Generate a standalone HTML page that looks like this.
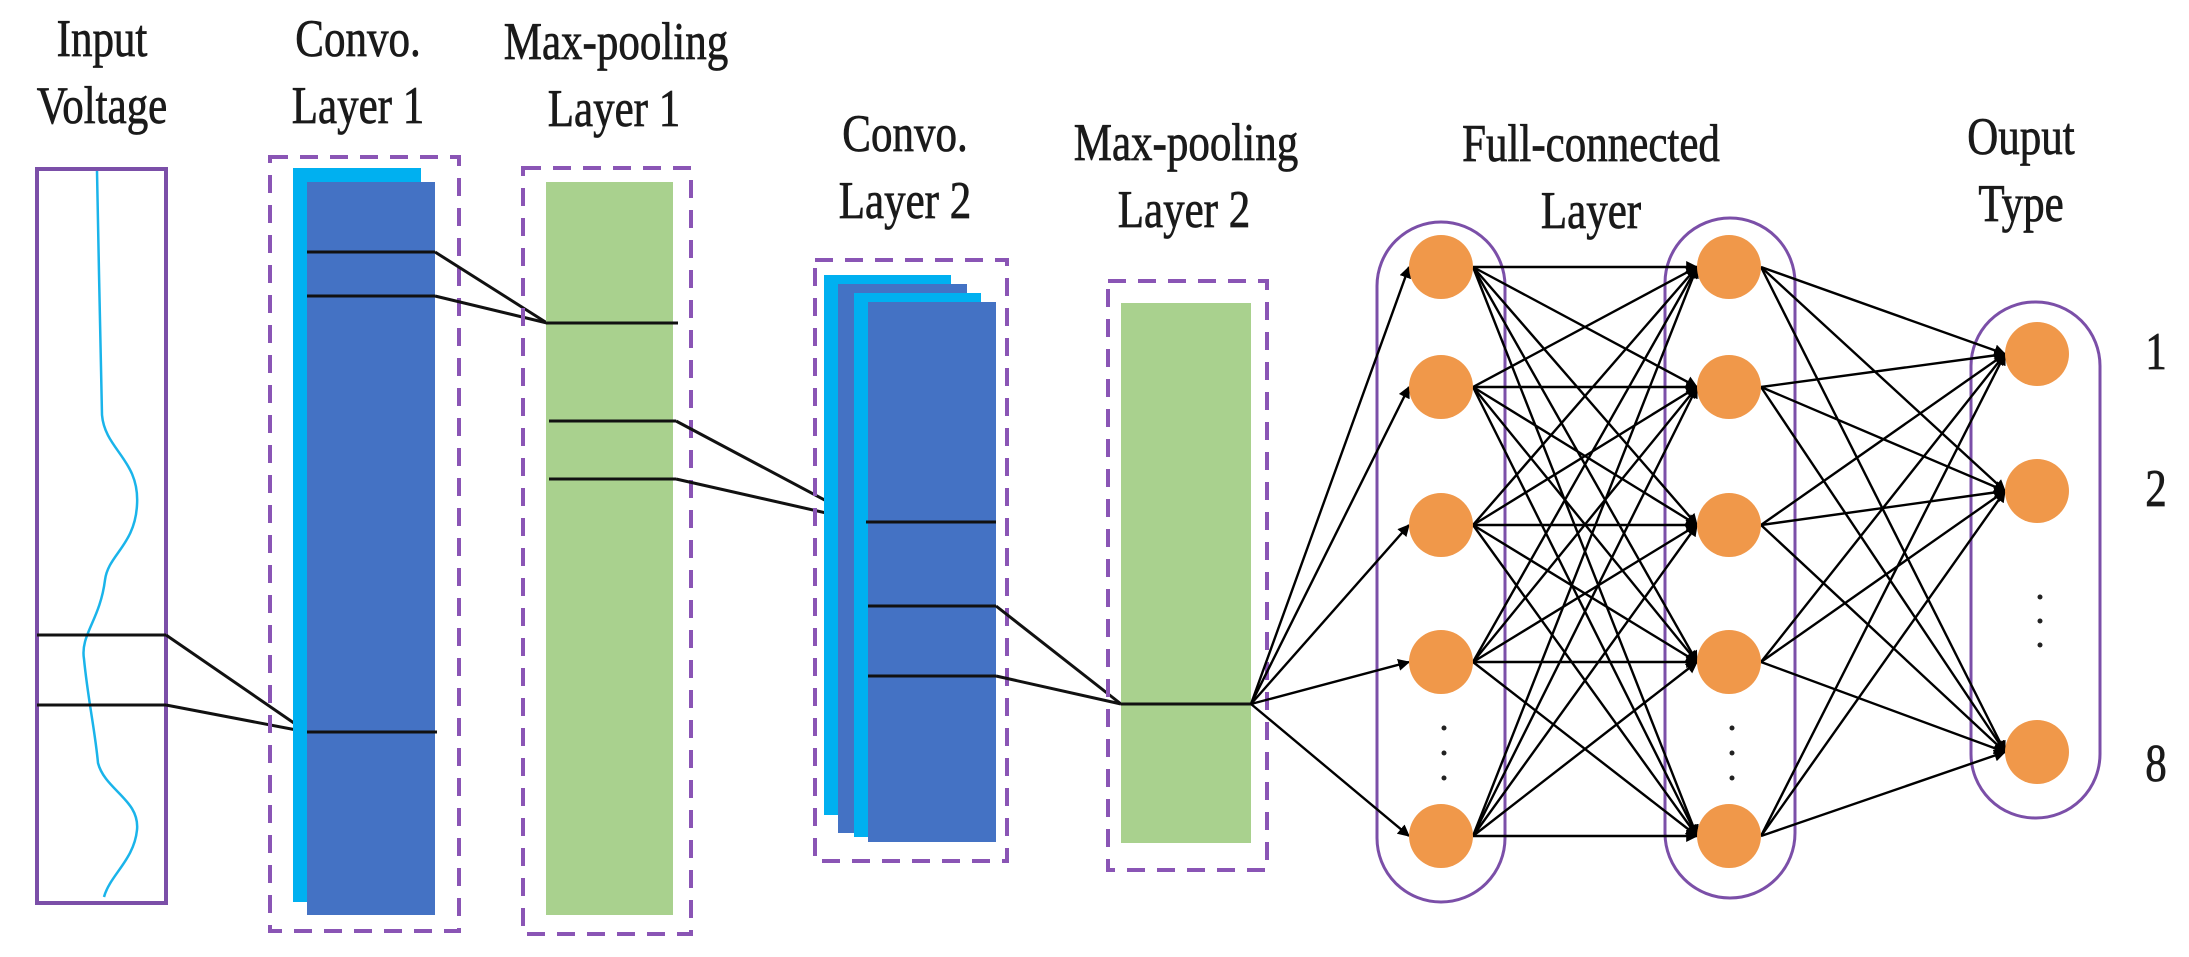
<!DOCTYPE html>
<html><head><meta charset="utf-8"><style>
html,body{margin:0;padding:0;background:#fff;}
svg{display:block;}
text{font-family:"Liberation Serif",serif;font-size:43px;fill:#1a1a1a;stroke:#1a1a1a;stroke-width:0.6px;}
</style></head><body>
<svg width="2189" height="957" viewBox="0 0 2189 957" xmlns="http://www.w3.org/2000/svg">
<defs>
<marker id="a" viewBox="0 0 10 10" refX="9" refY="5" markerWidth="5" markerHeight="5" orient="auto"><path d="M0,0 L10,5 L0,10 z" fill="#000"/></marker>
</defs>
<g text-anchor="middle">
<text transform="translate(102,56) scale(1,1.22)">Input</text>
<text transform="translate(102,123) scale(1,1.22)">Voltage</text>
<text transform="translate(358,56) scale(1,1.22)">Convo.</text>
<text transform="translate(358,123) scale(1,1.22)">Layer 1</text>
<text transform="translate(616,59) scale(1,1.22)">Max-pooling</text>
<text transform="translate(614,126) scale(1,1.22)">Layer 1</text>
<text transform="translate(905,151) scale(1,1.22)">Convo.</text>
<text transform="translate(905,218) scale(1,1.22)">Layer 2</text>
<text transform="translate(1186,160) scale(1,1.22)">Max-pooling</text>
<text transform="translate(1184,227) scale(1,1.22)">Layer 2</text>
<text transform="translate(1591,161) scale(1,1.22)">Full-connected</text>
<text transform="translate(1591,228) scale(1,1.22)">Layer</text>
<text transform="translate(2021,154) scale(1,1.22)">Ouput</text>
<text transform="translate(2021,221) scale(1,1.22)">Type</text>
<text transform="translate(2156,369) scale(1,1.22)">1</text>
<text transform="translate(2156,506) scale(1,1.22)">2</text>
<text transform="translate(2156,781) scale(1,1.22)">8</text>
</g>
<rect x="37" y="169" width="129" height="734" fill="#fff" stroke="#7b4fa8" stroke-width="4"/>
<path d="M97,171 C98,250 101,340 102,415 C105,450 140,460 137,505 C135,545 108,555 105,580 C100,620 80,635 84,659 C88,700 95,730 98,763 C105,790 140,800 137,830 C134,860 110,875 104,897" fill="none" stroke="#1ab4ea" stroke-width="2.5"/>
<g stroke="#111" stroke-width="3" fill="none">
<line x1="37" y1="635" x2="166" y2="635"/><line x1="37" y1="705" x2="166" y2="705"/>
<line x1="166" y1="635" x2="307" y2="732"/><line x1="166" y1="705" x2="307" y2="732"/>
</g>
<rect x="270" y="157" width="189" height="774" fill="none" stroke="#8a55b5" stroke-width="4" stroke-dasharray="18,12"/>
<rect x="293" y="168" width="128" height="734" fill="#00b0f0"/>
<rect x="307" y="182" width="128" height="733" fill="#4472c4"/>
<g stroke="#111" stroke-width="3" fill="none">
<line x1="307" y1="252" x2="435" y2="252"/><line x1="307" y1="296" x2="435" y2="296"/>
<line x1="307" y1="732" x2="437" y2="732"/>
<line x1="435" y1="252" x2="547" y2="323"/><line x1="435" y1="296" x2="547" y2="323"/>
</g>
<rect x="523" y="168" width="168" height="766" fill="none" stroke="#8a55b5" stroke-width="4" stroke-dasharray="18,12"/>
<rect x="546" y="182" width="127" height="733" fill="#a9d18e"/>
<g stroke="#111" stroke-width="3" fill="none">
<line x1="546" y1="323" x2="678" y2="323"/><line x1="549" y1="421" x2="676" y2="421"/><line x1="549" y1="479" x2="676" y2="479"/>
<line x1="676" y1="421" x2="866" y2="522"/><line x1="676" y1="479" x2="866" y2="522"/>
</g>
<rect x="815" y="260" width="192" height="601" fill="none" stroke="#8a55b5" stroke-width="4" stroke-dasharray="18,12"/>
<rect x="824" y="275" width="127" height="540" fill="#00b0f0"/>
<rect x="838" y="284" width="129" height="549" fill="#4472c4"/>
<rect x="854" y="293" width="127" height="544" fill="#00b0f0"/>
<rect x="868" y="302" width="128" height="540" fill="#4472c4"/>
<g stroke="#111" stroke-width="3" fill="none">
<line x1="866" y1="522" x2="996" y2="522"/><line x1="868" y1="606" x2="996" y2="606"/><line x1="868" y1="676" x2="996" y2="676"/>
<line x1="996" y1="606" x2="1121" y2="704"/><line x1="996" y1="676" x2="1121" y2="704"/>
</g>
<rect x="1108" y="281" width="159" height="589" fill="none" stroke="#8a55b5" stroke-width="4" stroke-dasharray="18,12"/>
<rect x="1121" y="303" width="130" height="540" fill="#a9d18e"/>
<line x1="1121" y1="704" x2="1251" y2="704" stroke="#111" stroke-width="3"/>
<g fill="none" stroke="#7b4fa8" stroke-width="3">
<rect x="1377" y="222" width="128" height="680" rx="64"/>
<rect x="1665" y="218" width="130" height="680" rx="65"/>
<rect x="1971" y="302" width="129" height="516" rx="64"/>
</g>
<g stroke="#000" stroke-width="2.4" fill="none" marker-end="url(#a)">
<line x1="1251" y1="704" x2="1409" y2="267"/><line x1="1251" y1="704" x2="1409" y2="387"/><line x1="1251" y1="704" x2="1409" y2="525"/><line x1="1251" y1="704" x2="1409" y2="662"/><line x1="1251" y1="704" x2="1409" y2="836"/>
<line x1="1473" y1="267" x2="1697" y2="267"/><line x1="1473" y1="267" x2="1697" y2="387"/><line x1="1473" y1="267" x2="1697" y2="525"/><line x1="1473" y1="267" x2="1697" y2="662"/><line x1="1473" y1="267" x2="1697" y2="836"/>
<line x1="1473" y1="387" x2="1697" y2="267"/><line x1="1473" y1="387" x2="1697" y2="387"/><line x1="1473" y1="387" x2="1697" y2="525"/><line x1="1473" y1="387" x2="1697" y2="662"/><line x1="1473" y1="387" x2="1697" y2="836"/>
<line x1="1473" y1="525" x2="1697" y2="267"/><line x1="1473" y1="525" x2="1697" y2="387"/><line x1="1473" y1="525" x2="1697" y2="525"/><line x1="1473" y1="525" x2="1697" y2="662"/><line x1="1473" y1="525" x2="1697" y2="836"/>
<line x1="1473" y1="662" x2="1697" y2="267"/><line x1="1473" y1="662" x2="1697" y2="387"/><line x1="1473" y1="662" x2="1697" y2="525"/><line x1="1473" y1="662" x2="1697" y2="662"/><line x1="1473" y1="662" x2="1697" y2="836"/>
<line x1="1473" y1="836" x2="1697" y2="267"/><line x1="1473" y1="836" x2="1697" y2="387"/><line x1="1473" y1="836" x2="1697" y2="525"/><line x1="1473" y1="836" x2="1697" y2="662"/><line x1="1473" y1="836" x2="1697" y2="836"/>
<line x1="1761" y1="267" x2="2005" y2="354"/><line x1="1761" y1="267" x2="2005" y2="491"/><line x1="1761" y1="267" x2="2005" y2="752"/>
<line x1="1761" y1="387" x2="2005" y2="354"/><line x1="1761" y1="387" x2="2005" y2="491"/><line x1="1761" y1="387" x2="2005" y2="752"/>
<line x1="1761" y1="525" x2="2005" y2="354"/><line x1="1761" y1="525" x2="2005" y2="491"/><line x1="1761" y1="525" x2="2005" y2="752"/>
<line x1="1761" y1="662" x2="2005" y2="354"/><line x1="1761" y1="662" x2="2005" y2="491"/><line x1="1761" y1="662" x2="2005" y2="752"/>
<line x1="1761" y1="836" x2="2005" y2="354"/><line x1="1761" y1="836" x2="2005" y2="491"/><line x1="1761" y1="836" x2="2005" y2="752"/>
</g>
<g fill="#f0984a">
<circle cx="1441" cy="267" r="32"/><circle cx="1441" cy="387" r="32"/><circle cx="1441" cy="525" r="32"/><circle cx="1441" cy="662" r="32"/><circle cx="1441" cy="836" r="32"/>
<circle cx="1729" cy="267" r="32"/><circle cx="1729" cy="387" r="32"/><circle cx="1729" cy="525" r="32"/><circle cx="1729" cy="662" r="32"/><circle cx="1729" cy="836" r="32"/>
<circle cx="2037" cy="354" r="32"/><circle cx="2037" cy="491" r="32"/><circle cx="2037" cy="752" r="32"/>
</g>
<g fill="#222">
<circle cx="1444" cy="728" r="2.5"/><circle cx="1444" cy="753" r="2.5"/><circle cx="1444" cy="778" r="2.5"/>
<circle cx="1732" cy="728" r="2.5"/><circle cx="1732" cy="753" r="2.5"/><circle cx="1732" cy="778" r="2.5"/>
<circle cx="2040" cy="597" r="2.5"/><circle cx="2040" cy="621" r="2.5"/><circle cx="2040" cy="645" r="2.5"/>
</g>
</svg>
</body></html>
